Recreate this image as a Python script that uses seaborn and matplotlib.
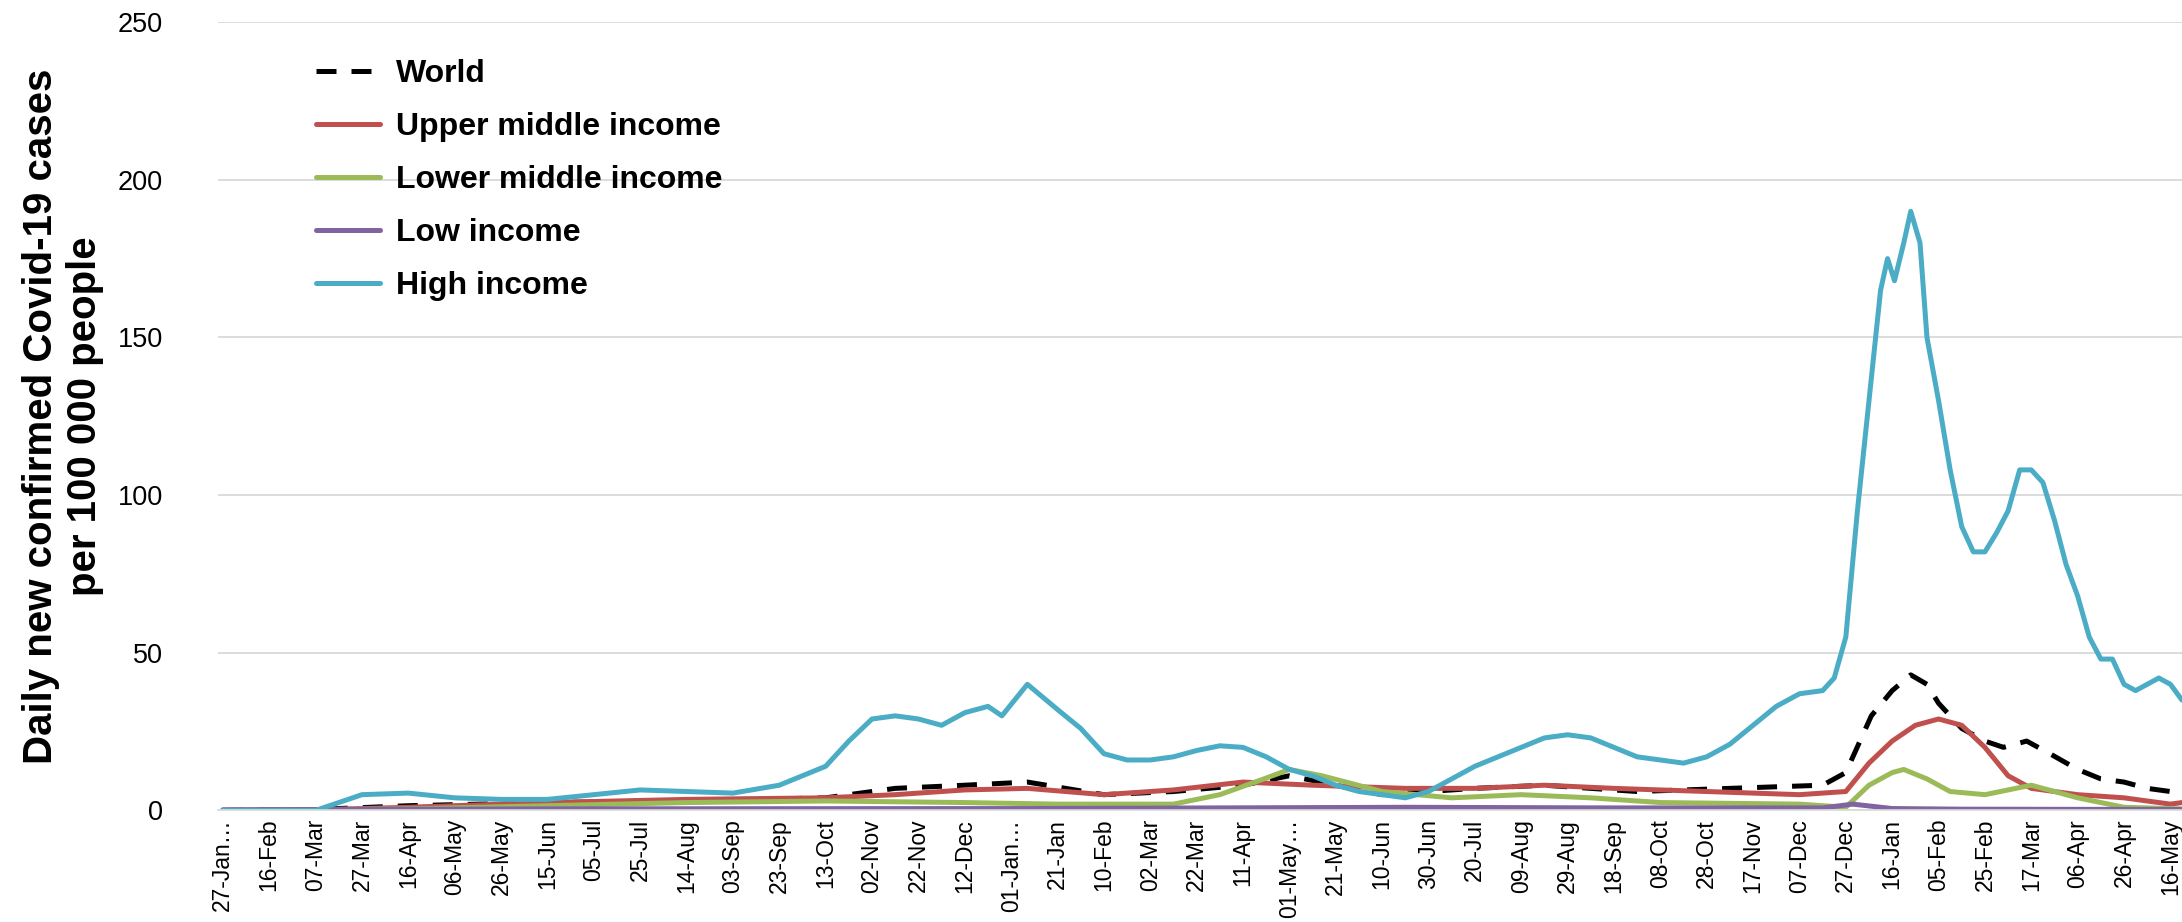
import matplotlib
matplotlib.use('Agg')
import matplotlib.pyplot as plt
import numpy as np
import pandas as pd
import seaborn as sns

# data (daily new cases per 100 000 people)
high_dates = ['2020-01-27', '2020-03-07', '2020-03-27', '2020-04-16', '2020-05-06', '2020-05-26',
              '2020-06-15', '2020-07-05', '2020-07-25', '2020-08-14', '2020-09-03', '2020-09-23',
              '2020-10-13', '2020-10-23', '2020-11-02', '2020-11-12', '2020-11-22', '2020-12-02',
              '2020-12-12', '2020-12-22', '2020-12-28', '2021-01-08', '2021-01-21', '2021-01-31',
              '2021-02-10', '2021-02-20', '2021-03-02', '2021-03-12', '2021-03-22', '2021-04-01',
              '2021-04-11', '2021-04-21', '2021-05-01', '2021-05-11', '2021-05-21', '2021-05-31',
              '2021-06-10', '2021-06-20', '2021-06-30', '2021-07-10', '2021-07-20', '2021-07-30',
              '2021-08-09', '2021-08-19', '2021-08-29', '2021-09-08', '2021-09-18', '2021-09-28',
              '2021-10-08', '2021-10-18', '2021-10-28', '2021-11-07', '2021-11-17', '2021-11-27',
              '2021-12-07', '2021-12-17', '2021-12-22', '2021-12-27', '2022-01-01', '2022-01-06',
              '2022-01-11', '2022-01-14', '2022-01-17', '2022-01-21', '2022-01-24', '2022-01-28',
              '2022-01-31', '2022-02-05', '2022-02-10', '2022-02-15', '2022-02-20', '2022-02-25',
              '2022-03-02', '2022-03-07', '2022-03-12', '2022-03-17', '2022-03-22', '2022-03-27',
              '2022-04-01', '2022-04-06', '2022-04-11', '2022-04-16', '2022-04-21', '2022-04-26',
              '2022-05-01', '2022-05-06', '2022-05-11', '2022-05-16', '2022-05-21']
high_vals = [0, 0, 5, 5.5, 4, 3.5,
             3.5, 5, 6.5, 6, 5.5, 8,
             14, 22, 29, 30, 29, 27,
             31, 33, 30, 40, 32, 26,
             18, 16, 16, 17, 19, 20.5,
             20, 17, 13, 11, 8, 6,
             5, 4, 6, 10, 14, 17,
             20, 23, 24, 23, 20, 17,
             16, 15, 17, 21, 27, 33,
             37, 38, 42, 55, 95, 130,
             165, 175, 168, 180, 190, 180,
             150, 130, 108, 90, 82, 82,
             88, 95, 108, 108, 104, 92,
             78, 68, 55, 48, 48, 40,
             38, 40, 42, 40, 35]

world_dates = ['2020-01-27', '2020-03-07', '2020-04-16', '2020-06-15', '2020-08-14', '2020-10-13',
               '2020-11-12', '2020-12-12', '2021-01-08', '2021-02-10', '2021-03-12', '2021-04-11',
               '2021-05-01', '2021-06-10', '2021-07-20', '2021-08-19', '2021-09-28', '2021-11-07',
               '2021-12-17', '2021-12-27', '2022-01-07', '2022-01-16', '2022-01-24', '2022-01-31',
               '2022-02-05', '2022-02-15', '2022-02-25', '2022-03-05', '2022-03-15', '2022-03-25',
               '2022-04-06', '2022-04-16', '2022-04-26', '2022-05-06', '2022-05-21']
world_vals = [0, 0.3, 1.5, 2.5, 3, 4,
              7, 8, 9, 5, 6, 8,
              11, 5, 7, 8, 6, 7,
              8, 12, 30, 38, 43, 40,
              34, 26, 22, 20, 22, 18,
              13, 10, 9, 7, 5.5]

upper_dates = ['2020-01-27', '2020-03-07', '2020-04-16', '2020-06-15', '2020-08-14', '2020-10-13',
               '2020-11-12', '2020-12-12', '2021-01-08', '2021-02-10', '2021-03-12', '2021-04-11',
               '2021-05-11', '2021-06-20', '2021-07-20', '2021-08-19', '2021-09-18', '2021-10-28',
               '2021-12-07', '2021-12-27', '2022-01-06', '2022-01-16', '2022-01-26', '2022-02-05',
               '2022-02-15', '2022-02-25', '2022-03-07', '2022-03-17', '2022-03-27', '2022-04-06',
               '2022-04-26', '2022-05-16', '2022-05-21']
upper_vals = [0, 0.2, 1, 2.5, 3.5, 4,
              5, 6.5, 7, 5, 6.5, 9,
              8, 7, 7, 8, 7, 6,
              5, 6, 15, 22, 27, 29,
              27, 20, 11, 7, 6, 5,
              4, 2, 2.5]

lower_dates = ['2020-01-27', '2020-04-16', '2020-06-15', '2020-08-14', '2020-10-13', '2020-12-12',
               '2021-01-21', '2021-03-12', '2021-04-01', '2021-04-20', '2021-05-01', '2021-05-15',
               '2021-06-10', '2021-07-10', '2021-08-09', '2021-09-08', '2021-10-08', '2021-12-07',
               '2021-12-27', '2022-01-06', '2022-01-16', '2022-01-21', '2022-01-31', '2022-02-10',
               '2022-02-25', '2022-03-17', '2022-04-06', '2022-04-26', '2022-05-21']
lower_vals = [0, 0.5, 1.5, 2.5, 3, 2.5,
              2, 2, 5, 10, 13, 11,
              6, 4, 5, 4, 2.5, 2,
              1, 8, 12, 13, 10, 6,
              5, 8, 4, 1, 0.5]

low_dates = ['2020-01-27', '2020-06-15', '2021-01-08', '2021-06-20', '2021-09-18', '2021-12-17',
             '2021-12-30', '2022-01-16', '2022-02-15', '2022-05-21']
low_vals = [0.2, 0.5, 0.6, 1, 0.8, 0.8, 2, 0.6, 0.4, 0.3]

tick_labels = ['27-Jan…', '16-Feb', '07-Mar', '27-Mar', '16-Apr', '06-May', '26-May', '15-Jun',
               '05-Jul', '25-Jul', '14-Aug', '03-Sep', '23-Sep', '13-Oct', '02-Nov', '22-Nov',
               '12-Dec', '01-Jan…', '21-Jan', '10-Feb', '02-Mar', '22-Mar', '11-Apr', '01-May…',
               '21-May', '10-Jun', '30-Jun', '20-Jul', '09-Aug', '29-Aug', '18-Sep', '08-Oct',
               '28-Oct', '17-Nov', '07-Dec', '27-Dec', '16-Jan', '05-Feb', '25-Feb', '17-Mar',
               '06-Apr', '26-Apr', '16-May']

series = [
    ('World', world_dates, world_vals, 'black', (0, (4, 3))),
    ('Upper middle income', upper_dates, upper_vals, '#c0504d', '-'),
    ('Lower middle income', lower_dates, lower_vals, '#9bbb59', '-'),
    ('Low income', low_dates, low_vals, '#8064a2', '-'),
    ('High income', high_dates, high_vals, '#4bacc6', '-'),
]

sns.set_theme(style='white')
plt.rcParams['font.family'] = ['Liberation Sans', 'DejaVu Sans']
plt.rcParams['text.color'] = 'black'
plt.rcParams['xtick.color'] = 'black'
plt.rcParams['ytick.color'] = 'black'
plt.rcParams['axes.labelcolor'] = 'black'

fig = plt.figure(figsize=(21.82, 9.22), dpi=100)
ax = fig.add_axes([0.1, 0.121, 0.9, 0.855])

for name, d, v, color, ls in series:
    df = pd.DataFrame({'date': pd.to_datetime(d), 'value': v})
    sns.lineplot(data=df, x='date', y='value', ax=ax, color=color, linewidth=3.6,
                 linestyle=ls, label=name)

start = pd.Timestamp('2020-01-27')
ticks = [start + pd.Timedelta(days=20 * i) for i in range(len(tick_labels))]
ax.set_xticks(ticks)
ax.set_xticklabels(tick_labels, rotation=90, fontsize=16.5)
ax.set_xlim(pd.Timestamp('2020-01-25'), pd.Timestamp('2022-05-21'))
ax.set_ylim(0, 250)
ax.set_yticks(np.arange(0, 251, 50))
ax.tick_params(axis='y', labelsize=19.5, length=0, pad=40)
ax.tick_params(axis='x', length=0, pad=6)
ax.yaxis.grid(True, color='#d9d9d9', linewidth=1.3)
ax.xaxis.grid(False)
for s in ['top', 'right', 'left']:
    ax.spines[s].set_visible(False)
ax.spines['bottom'].set_color('#d9d9d9')
ax.set_xlabel('')
ax.set_ylabel('Daily new confirmed Covid-19 cases\nper 100 000 people', fontsize=29,
              fontweight='bold', labelpad=10)

leg = ax.legend(loc='upper left', bbox_to_anchor=(0.035, 0.99), frameon=False,
                prop={'size': 23, 'weight': 'bold'}, handlelength=2.0, handletextpad=0.5,
                labelspacing=0.72)

fig.savefig('out.png', dpi=100)
